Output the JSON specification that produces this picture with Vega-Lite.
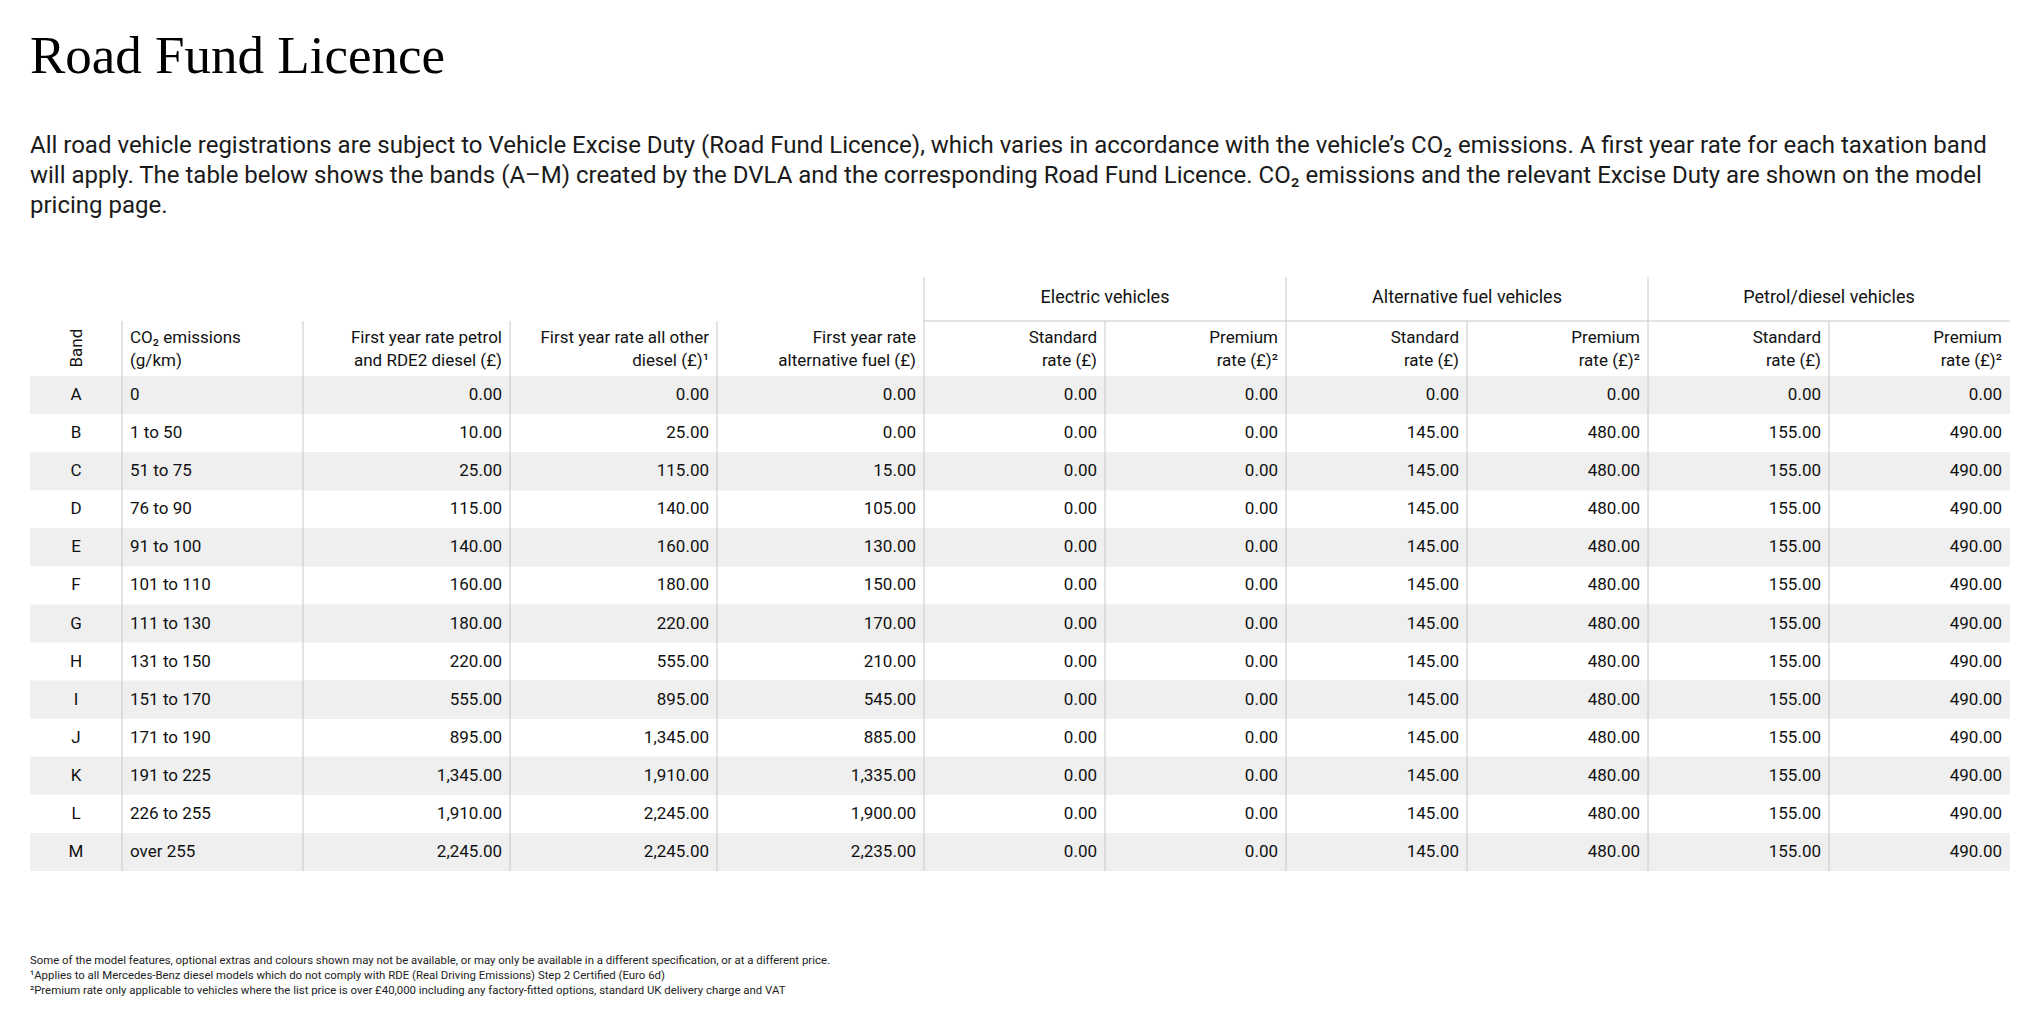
{
  "$schema": "https://vega.github.io/schema/vega-lite/v6.json",
  "background": "white",
  "padding": {"left": 30, "top": 30, "right": 0, "bottom": 0},
  "title": {
    "text": "Road Fund Licence",
    "subtitle": [
      "All road vehicle registrations are subject to Vehicle Excise Duty (Road Fund Licence), which varies in accordance with the vehicle’s CO₂ emissions. A first year rate for each taxation band",
      "will apply. The table below shows the bands (A–M) created by the DVLA and the corresponding Road Fund Licence. CO₂ emissions and the relevant Excise Duty are shown on the model",
      "pricing page."
    ],
    "anchor": "start",
    "font": "Liberation Serif",
    "fontSize": 53,
    "fontWeight": "normal",
    "color": "#000000",
    "subtitleFont": "Roboto",
    "subtitleFontSize": 24,
    "subtitleColor": "#1a1a1a",
    "subtitleLineHeight": 30,
    "subtitlePadding": 50,
    "offset": 59
  },
  "config": {
    "view": {"stroke": null},
    "axis": {"domain": false, "ticks": false, "tickSize": 0, "grid": false, "labelFont": "Roboto", "labelFontSize": 17, "labelColor": "#111111", "labelLineHeight": 23, "labelAngle": 0, "labelLimit": 400, "labelOverlap": false},
    "text": {"font": "Roboto", "fontSize": 17, "color": "#111111"},
    "rule": {"color": "#c8c8c8", "strokeWidth": 1}
  },
  "datasets": {
    "bands": [
      {"band": "A", "co2": "0"},
      {"band": "B", "co2": "1 to 50"},
      {"band": "C", "co2": "51 to 75"},
      {"band": "D", "co2": "76 to 90"},
      {"band": "E", "co2": "91 to 100"},
      {"band": "F", "co2": "101 to 110"},
      {"band": "G", "co2": "111 to 130"},
      {"band": "H", "co2": "131 to 150"},
      {"band": "I", "co2": "151 to 170"},
      {"band": "J", "co2": "171 to 190"},
      {"band": "K", "co2": "191 to 225"},
      {"band": "L", "co2": "226 to 255"},
      {"band": "M", "co2": "over 255"}
    ],
    "footnotes": [
      {"line": 1, "text": "Some of the model features, optional extras and colours shown may not be available, or may only be available in a different specification, or at a different price."},
      {"line": 2, "text": "¹Applies to all Mercedes-Benz diesel models which do not comply with RDE (Real Driving Emissions) Step 2 Certified (Euro 6d)"},
      {"line": 3, "text": "²Premium rate only applicable to vehicles where the list price is over £40,000 including any factory-fitted options, standard UK delivery charge and VAT"}
    ],
    "rates": [
      {"band": "A", "group": "First year", "col": "petrol", "value": 0},
      {"band": "A", "group": "First year", "col": "other diesel", "value": 0},
      {"band": "A", "group": "First year", "col": "alternative fuel", "value": 0},
      {"band": "A", "group": "Electric vehicles", "col": "standard", "value": 0},
      {"band": "A", "group": "Electric vehicles", "col": "premium", "value": 0},
      {"band": "A", "group": "Alternative fuel vehicles", "col": "standard", "value": 0},
      {"band": "A", "group": "Alternative fuel vehicles", "col": "premium", "value": 0},
      {"band": "A", "group": "Petrol/diesel vehicles", "col": "standard", "value": 0},
      {"band": "A", "group": "Petrol/diesel vehicles", "col": "premium", "value": 0},
      {"band": "B", "group": "First year", "col": "petrol", "value": 10},
      {"band": "B", "group": "First year", "col": "other diesel", "value": 25},
      {"band": "B", "group": "First year", "col": "alternative fuel", "value": 0},
      {"band": "B", "group": "Electric vehicles", "col": "standard", "value": 0},
      {"band": "B", "group": "Electric vehicles", "col": "premium", "value": 0},
      {"band": "B", "group": "Alternative fuel vehicles", "col": "standard", "value": 145},
      {"band": "B", "group": "Alternative fuel vehicles", "col": "premium", "value": 480},
      {"band": "B", "group": "Petrol/diesel vehicles", "col": "standard", "value": 155},
      {"band": "B", "group": "Petrol/diesel vehicles", "col": "premium", "value": 490},
      {"band": "C", "group": "First year", "col": "petrol", "value": 25},
      {"band": "C", "group": "First year", "col": "other diesel", "value": 115},
      {"band": "C", "group": "First year", "col": "alternative fuel", "value": 15},
      {"band": "C", "group": "Electric vehicles", "col": "standard", "value": 0},
      {"band": "C", "group": "Electric vehicles", "col": "premium", "value": 0},
      {"band": "C", "group": "Alternative fuel vehicles", "col": "standard", "value": 145},
      {"band": "C", "group": "Alternative fuel vehicles", "col": "premium", "value": 480},
      {"band": "C", "group": "Petrol/diesel vehicles", "col": "standard", "value": 155},
      {"band": "C", "group": "Petrol/diesel vehicles", "col": "premium", "value": 490},
      {"band": "D", "group": "First year", "col": "petrol", "value": 115},
      {"band": "D", "group": "First year", "col": "other diesel", "value": 140},
      {"band": "D", "group": "First year", "col": "alternative fuel", "value": 105},
      {"band": "D", "group": "Electric vehicles", "col": "standard", "value": 0},
      {"band": "D", "group": "Electric vehicles", "col": "premium", "value": 0},
      {"band": "D", "group": "Alternative fuel vehicles", "col": "standard", "value": 145},
      {"band": "D", "group": "Alternative fuel vehicles", "col": "premium", "value": 480},
      {"band": "D", "group": "Petrol/diesel vehicles", "col": "standard", "value": 155},
      {"band": "D", "group": "Petrol/diesel vehicles", "col": "premium", "value": 490},
      {"band": "E", "group": "First year", "col": "petrol", "value": 140},
      {"band": "E", "group": "First year", "col": "other diesel", "value": 160},
      {"band": "E", "group": "First year", "col": "alternative fuel", "value": 130},
      {"band": "E", "group": "Electric vehicles", "col": "standard", "value": 0},
      {"band": "E", "group": "Electric vehicles", "col": "premium", "value": 0},
      {"band": "E", "group": "Alternative fuel vehicles", "col": "standard", "value": 145},
      {"band": "E", "group": "Alternative fuel vehicles", "col": "premium", "value": 480},
      {"band": "E", "group": "Petrol/diesel vehicles", "col": "standard", "value": 155},
      {"band": "E", "group": "Petrol/diesel vehicles", "col": "premium", "value": 490},
      {"band": "F", "group": "First year", "col": "petrol", "value": 160},
      {"band": "F", "group": "First year", "col": "other diesel", "value": 180},
      {"band": "F", "group": "First year", "col": "alternative fuel", "value": 150},
      {"band": "F", "group": "Electric vehicles", "col": "standard", "value": 0},
      {"band": "F", "group": "Electric vehicles", "col": "premium", "value": 0},
      {"band": "F", "group": "Alternative fuel vehicles", "col": "standard", "value": 145},
      {"band": "F", "group": "Alternative fuel vehicles", "col": "premium", "value": 480},
      {"band": "F", "group": "Petrol/diesel vehicles", "col": "standard", "value": 155},
      {"band": "F", "group": "Petrol/diesel vehicles", "col": "premium", "value": 490},
      {"band": "G", "group": "First year", "col": "petrol", "value": 180},
      {"band": "G", "group": "First year", "col": "other diesel", "value": 220},
      {"band": "G", "group": "First year", "col": "alternative fuel", "value": 170},
      {"band": "G", "group": "Electric vehicles", "col": "standard", "value": 0},
      {"band": "G", "group": "Electric vehicles", "col": "premium", "value": 0},
      {"band": "G", "group": "Alternative fuel vehicles", "col": "standard", "value": 145},
      {"band": "G", "group": "Alternative fuel vehicles", "col": "premium", "value": 480},
      {"band": "G", "group": "Petrol/diesel vehicles", "col": "standard", "value": 155},
      {"band": "G", "group": "Petrol/diesel vehicles", "col": "premium", "value": 490},
      {"band": "H", "group": "First year", "col": "petrol", "value": 220},
      {"band": "H", "group": "First year", "col": "other diesel", "value": 555},
      {"band": "H", "group": "First year", "col": "alternative fuel", "value": 210},
      {"band": "H", "group": "Electric vehicles", "col": "standard", "value": 0},
      {"band": "H", "group": "Electric vehicles", "col": "premium", "value": 0},
      {"band": "H", "group": "Alternative fuel vehicles", "col": "standard", "value": 145},
      {"band": "H", "group": "Alternative fuel vehicles", "col": "premium", "value": 480},
      {"band": "H", "group": "Petrol/diesel vehicles", "col": "standard", "value": 155},
      {"band": "H", "group": "Petrol/diesel vehicles", "col": "premium", "value": 490},
      {"band": "I", "group": "First year", "col": "petrol", "value": 555},
      {"band": "I", "group": "First year", "col": "other diesel", "value": 895},
      {"band": "I", "group": "First year", "col": "alternative fuel", "value": 545},
      {"band": "I", "group": "Electric vehicles", "col": "standard", "value": 0},
      {"band": "I", "group": "Electric vehicles", "col": "premium", "value": 0},
      {"band": "I", "group": "Alternative fuel vehicles", "col": "standard", "value": 145},
      {"band": "I", "group": "Alternative fuel vehicles", "col": "premium", "value": 480},
      {"band": "I", "group": "Petrol/diesel vehicles", "col": "standard", "value": 155},
      {"band": "I", "group": "Petrol/diesel vehicles", "col": "premium", "value": 490},
      {"band": "J", "group": "First year", "col": "petrol", "value": 895},
      {"band": "J", "group": "First year", "col": "other diesel", "value": 1345},
      {"band": "J", "group": "First year", "col": "alternative fuel", "value": 885},
      {"band": "J", "group": "Electric vehicles", "col": "standard", "value": 0},
      {"band": "J", "group": "Electric vehicles", "col": "premium", "value": 0},
      {"band": "J", "group": "Alternative fuel vehicles", "col": "standard", "value": 145},
      {"band": "J", "group": "Alternative fuel vehicles", "col": "premium", "value": 480},
      {"band": "J", "group": "Petrol/diesel vehicles", "col": "standard", "value": 155},
      {"band": "J", "group": "Petrol/diesel vehicles", "col": "premium", "value": 490},
      {"band": "K", "group": "First year", "col": "petrol", "value": 1345},
      {"band": "K", "group": "First year", "col": "other diesel", "value": 1910},
      {"band": "K", "group": "First year", "col": "alternative fuel", "value": 1335},
      {"band": "K", "group": "Electric vehicles", "col": "standard", "value": 0},
      {"band": "K", "group": "Electric vehicles", "col": "premium", "value": 0},
      {"band": "K", "group": "Alternative fuel vehicles", "col": "standard", "value": 145},
      {"band": "K", "group": "Alternative fuel vehicles", "col": "premium", "value": 480},
      {"band": "K", "group": "Petrol/diesel vehicles", "col": "standard", "value": 155},
      {"band": "K", "group": "Petrol/diesel vehicles", "col": "premium", "value": 490},
      {"band": "L", "group": "First year", "col": "petrol", "value": 1910},
      {"band": "L", "group": "First year", "col": "other diesel", "value": 2245},
      {"band": "L", "group": "First year", "col": "alternative fuel", "value": 1900},
      {"band": "L", "group": "Electric vehicles", "col": "standard", "value": 0},
      {"band": "L", "group": "Electric vehicles", "col": "premium", "value": 0},
      {"band": "L", "group": "Alternative fuel vehicles", "col": "standard", "value": 145},
      {"band": "L", "group": "Alternative fuel vehicles", "col": "premium", "value": 480},
      {"band": "L", "group": "Petrol/diesel vehicles", "col": "standard", "value": 155},
      {"band": "L", "group": "Petrol/diesel vehicles", "col": "premium", "value": 490},
      {"band": "M", "group": "First year", "col": "petrol", "value": 2245},
      {"band": "M", "group": "First year", "col": "other diesel", "value": 2245},
      {"band": "M", "group": "First year", "col": "alternative fuel", "value": 2235},
      {"band": "M", "group": "Electric vehicles", "col": "standard", "value": 0},
      {"band": "M", "group": "Electric vehicles", "col": "premium", "value": 0},
      {"band": "M", "group": "Alternative fuel vehicles", "col": "standard", "value": 145},
      {"band": "M", "group": "Alternative fuel vehicles", "col": "premium", "value": 480},
      {"band": "M", "group": "Petrol/diesel vehicles", "col": "standard", "value": 155},
      {"band": "M", "group": "Petrol/diesel vehicles", "col": "premium", "value": 490}
    ]
  },
  "spacing": 81,
  "vconcat": [
    {
      "spacing": 0,
      "bounds": "flush",
      "hconcat": [
        {
          "width": 92, "height": 495,
          "data": {"name": "bands"},
          "encoding": {"y": {"field": "band", "type": "ordinal", "scale": {"domain": ["A","B","C","D","E","F","G","H","I","J","K","L","M"], "paddingInner": 0, "paddingOuter": 0}, "axis": null}},
          "layer": [
            {"transform": [{"filter": {"field": "band", "oneOf": ["A","C","E","G","I","K","M"]}}], "mark": {"type": "rect", "color": "#efefef"}, "encoding": {}},
            {"mark": {"type": "text", "align": "center"},
             "encoding": {
               "x": {"datum": "Band", "type": "nominal", "scale": {"paddingInner": 0, "paddingOuter": 0}, "axis": {"orient": "top", "title": null, "labelAngle": 270, "labelAlign": "left", "labelBaseline": "middle", "labelPadding": 9}},
               "text": {"field": "band"}}}
          ]
        },
        {
          "width": 181, "height": 495,
          "data": {"name": "bands"},
          "encoding": {"y": {"field": "band", "type": "ordinal", "scale": {"domain": ["A","B","C","D","E","F","G","H","I","J","K","L","M"], "paddingInner": 0, "paddingOuter": 0}, "axis": null}},
          "layer": [
            {"transform": [{"filter": {"field": "band", "oneOf": ["A","C","E","G","I","K","M"]}}], "mark": {"type": "rect", "color": "#efefef"}, "encoding": {}},
            {"mark": {"type": "text", "align": "left", "dx": 8},
             "encoding": {
               "x": {"datum": "CO₂ emissions|(g/km)", "type": "nominal", "bandPosition": 0, "scale": {"paddingInner": 0, "paddingOuter": 0}, "axis": {"orient": "top", "title": null, "labelExpr": "split(datum.label, '|')", "labelAlign": "left", "labelBaseline": "bottom", "labelOffset": -82.5, "labelPadding": 30}},
               "text": {"field": "co2"}}},
            {"transform": [{"filter": "datum.band == 'A'"}], "mark": {"type": "rule"},
             "encoding": {
               "x": {"datum": "CO₂ emissions|(g/km)", "type": "nominal", "bandPosition": 0},
               "y": {"value": -55}, "y2": {"value": "height"}}}
          ]
        },
        {
          "width": 621, "height": 495,
          "data": {"name": "rates"},
          "transform": [{"filter": {"field": "group", "equal": "First year"}}],
          "encoding": {"y": {"field": "band", "type": "ordinal", "scale": {"domain": ["A","B","C","D","E","F","G","H","I","J","K","L","M"], "paddingInner": 0, "paddingOuter": 0}, "axis": null}},
          "layer": [
            {"transform": [{"filter": {"field": "band", "oneOf": ["A","C","E","G","I","K","M"]}}], "mark": {"type": "rect", "color": "#efefef"}, "encoding": {}},
            {"mark": {"type": "text", "align": "right", "dx": -8},
             "encoding": {
               "x": {"field": "col", "type": "nominal", "sort": ["petrol", "other diesel", "alternative fuel"], "bandPosition": 1, "scale": {"paddingInner": 0, "paddingOuter": 0},
                     "axis": {"orient": "top", "title": null, "labelAlign": "right", "labelBaseline": "bottom", "labelOffset": 95.5, "labelPadding": 30,
                              "labelExpr": "datum.value == 'petrol' ? ['First year rate petrol', 'and RDE2 diesel (£)'] : datum.value == 'other diesel' ? ['First year rate all other', 'diesel (£)¹'] : ['First year rate', 'alternative fuel (£)']"}},
               "text": {"field": "value", "type": "quantitative", "format": ",.2f"}}},
            {"transform": [{"filter": "datum.band == 'A'"}], "mark": {"type": "rule"},
             "encoding": {
               "x": {"field": "col", "type": "nominal", "sort": ["petrol", "other diesel", "alternative fuel"], "bandPosition": 0},
               "y": {"value": -55}, "y2": {"value": "height"}}}
          ]
        },
        {
          "width": 362, "height": 495,
          "data": {"name": "rates"},
          "transform": [{"filter": {"field": "group", "equal": "Electric vehicles"}}],
          "title": {"text": "Electric vehicles", "anchor": "middle", "offset": -30, "font": "Roboto", "fontSize": 18, "fontWeight": "normal", "color": "#111111"},
          "encoding": {"y": {"field": "band", "type": "ordinal", "scale": {"domain": ["A","B","C","D","E","F","G","H","I","J","K","L","M"], "paddingInner": 0, "paddingOuter": 0}, "axis": null}},
          "layer": [
            {"transform": [{"filter": {"field": "band", "oneOf": ["A","C","E","G","I","K","M"]}}], "mark": {"type": "rect", "color": "#efefef"}, "encoding": {}},
            {"mark": {"type": "text", "align": "right", "dx": -8},
             "encoding": {
               "x": {"field": "col", "type": "nominal", "sort": ["standard", "premium"], "bandPosition": 1, "scale": {"paddingInner": 0, "paddingOuter": 0},
                     "axis": {"orient": "top", "title": null, "labelAlign": "right", "labelBaseline": "bottom", "labelOffset": 82.5, "labelPadding": 30,
                              "labelExpr": "datum.value == 'standard' ? ['Standard', 'rate (£)'] : ['Premium', 'rate (£)²']"}},
               "text": {"field": "value", "type": "quantitative", "format": ",.2f"}}},
            {"transform": [{"filter": "datum.band == 'A' && datum.col == 'premium'"}], "mark": {"type": "rule"},
             "encoding": {
               "x": {"field": "col", "type": "nominal", "sort": ["standard", "premium"], "bandPosition": 0},
               "y": {"value": -55}, "y2": {"value": "height"}}},
            {"transform": [{"filter": "datum.band == 'A' && datum.col == 'standard'"}], "mark": {"type": "rule"},
             "encoding": {
               "x": {"field": "col", "type": "nominal", "sort": ["standard", "premium"], "bandPosition": 0},
               "y": {"value": -99}, "y2": {"value": "height"}}},
            {"transform": [{"filter": "datum.band == 'A' && datum.col == 'standard'"}], "mark": {"type": "rule"},
             "encoding": {"x": {"value": 0}, "x2": {"value": "width"}, "y": {"value": -55}}}
          ]
        },
        {
          "width": 362, "height": 495,
          "data": {"name": "rates"},
          "transform": [{"filter": {"field": "group", "equal": "Alternative fuel vehicles"}}],
          "title": {"text": "Alternative fuel vehicles", "anchor": "middle", "offset": -30, "font": "Roboto", "fontSize": 18, "fontWeight": "normal", "color": "#111111"},
          "encoding": {"y": {"field": "band", "type": "ordinal", "scale": {"domain": ["A","B","C","D","E","F","G","H","I","J","K","L","M"], "paddingInner": 0, "paddingOuter": 0}, "axis": null}},
          "layer": [
            {"transform": [{"filter": {"field": "band", "oneOf": ["A","C","E","G","I","K","M"]}}], "mark": {"type": "rect", "color": "#efefef"}, "encoding": {}},
            {"mark": {"type": "text", "align": "right", "dx": -8},
             "encoding": {
               "x": {"field": "col", "type": "nominal", "sort": ["standard", "premium"], "bandPosition": 1, "scale": {"paddingInner": 0, "paddingOuter": 0},
                     "axis": {"orient": "top", "title": null, "labelAlign": "right", "labelBaseline": "bottom", "labelOffset": 82.5, "labelPadding": 30,
                              "labelExpr": "datum.value == 'standard' ? ['Standard', 'rate (£)'] : ['Premium', 'rate (£)²']"}},
               "text": {"field": "value", "type": "quantitative", "format": ",.2f"}}},
            {"transform": [{"filter": "datum.band == 'A' && datum.col == 'premium'"}], "mark": {"type": "rule"},
             "encoding": {
               "x": {"field": "col", "type": "nominal", "sort": ["standard", "premium"], "bandPosition": 0},
               "y": {"value": -55}, "y2": {"value": "height"}}},
            {"transform": [{"filter": "datum.band == 'A' && datum.col == 'standard'"}], "mark": {"type": "rule"},
             "encoding": {
               "x": {"field": "col", "type": "nominal", "sort": ["standard", "premium"], "bandPosition": 0},
               "y": {"value": -99}, "y2": {"value": "height"}}},
            {"transform": [{"filter": "datum.band == 'A' && datum.col == 'standard'"}], "mark": {"type": "rule"},
             "encoding": {"x": {"value": 0}, "x2": {"value": "width"}, "y": {"value": -55}}}
          ]
        },
        {
          "width": 362, "height": 495,
          "data": {"name": "rates"},
          "transform": [{"filter": {"field": "group", "equal": "Petrol/diesel vehicles"}}],
          "title": {"text": "Petrol/diesel vehicles", "anchor": "middle", "offset": -30, "font": "Roboto", "fontSize": 18, "fontWeight": "normal", "color": "#111111"},
          "encoding": {"y": {"field": "band", "type": "ordinal", "scale": {"domain": ["A","B","C","D","E","F","G","H","I","J","K","L","M"], "paddingInner": 0, "paddingOuter": 0}, "axis": null}},
          "layer": [
            {"transform": [{"filter": {"field": "band", "oneOf": ["A","C","E","G","I","K","M"]}}], "mark": {"type": "rect", "color": "#efefef"}, "encoding": {}},
            {"mark": {"type": "text", "align": "right", "dx": -8},
             "encoding": {
               "x": {"field": "col", "type": "nominal", "sort": ["standard", "premium"], "bandPosition": 1, "scale": {"paddingInner": 0, "paddingOuter": 0},
                     "axis": {"orient": "top", "title": null, "labelAlign": "right", "labelBaseline": "bottom", "labelOffset": 82.5, "labelPadding": 30,
                              "labelExpr": "datum.value == 'standard' ? ['Standard', 'rate (£)'] : ['Premium', 'rate (£)²']"}},
               "text": {"field": "value", "type": "quantitative", "format": ",.2f"}}},
            {"transform": [{"filter": "datum.band == 'A' && datum.col == 'premium'"}], "mark": {"type": "rule"},
             "encoding": {
               "x": {"field": "col", "type": "nominal", "sort": ["standard", "premium"], "bandPosition": 0},
               "y": {"value": -55}, "y2": {"value": "height"}}},
            {"transform": [{"filter": "datum.band == 'A' && datum.col == 'standard'"}], "mark": {"type": "rule"},
             "encoding": {
               "x": {"field": "col", "type": "nominal", "sort": ["standard", "premium"], "bandPosition": 0},
               "y": {"value": -99}, "y2": {"value": "height"}}},
            {"transform": [{"filter": "datum.band == 'A' && datum.col == 'standard'"}], "mark": {"type": "rule"},
             "encoding": {"x": {"value": 0}, "x2": {"value": "width"}, "y": {"value": -55}}}
          ]
        }
      ]
    },
    {
      "width": 1979, "height": 45,
      "data": {"name": "footnotes"},
      "mark": {"type": "text", "align": "left", "font": "Roboto", "fontSize": 11.4, "color": "#222222"},
      "encoding": {
        "x": {"value": 0},
        "y": {"field": "line", "type": "ordinal", "scale": {"paddingInner": 0, "paddingOuter": 0}, "axis": null},
        "text": {"field": "text"}
      }
    }
  ]
}
